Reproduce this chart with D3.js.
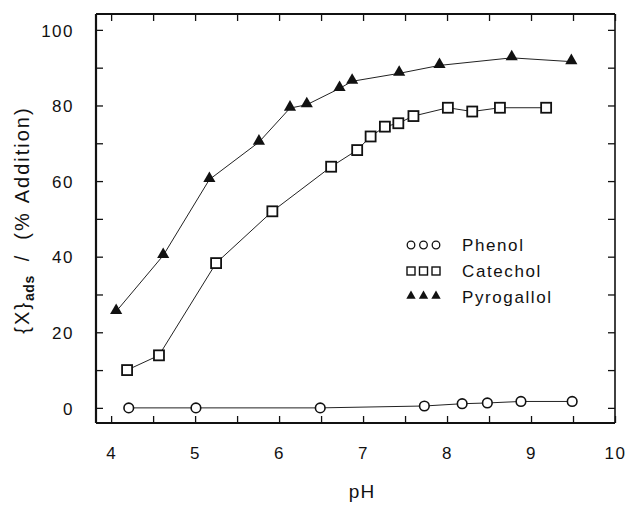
<!DOCTYPE html>
<html>
<head>
<meta charset="utf-8">
<script src="https://cdn.jsdelivr.net/npm/d3@7"></script>
<style>
  body { margin: 0; background: #fff; }
  text { font-family: "Liberation Sans", Arial, sans-serif; fill: #111; }
</style>
</head>
<body>
<div id="chart"></div>
<script>
// values
var phenolPH = [4.21, 5.01, 6.49, 7.73, 8.18, 8.48, 8.88, 9.49];
var phenolX = [0, 0, 0, 0.5, 1.1, 1.3, 1.7, 1.7];
var catecholPH = [4.19, 4.57, 5.25, 5.92, 6.62, 6.93, 7.09, 7.26, 7.42, 7.60, 8.01, 8.30, 8.63, 9.18];
var catecholX = [10.0, 13.9, 38.3, 52.0, 63.8, 68.2, 71.8, 74.4, 75.3, 77.2, 79.4, 78.4, 79.4, 79.4];
var pyroPH = [4.06, 4.62, 5.17, 5.76, 6.13, 6.33, 6.72, 6.87, 7.43, 7.91, 8.77, 9.48];
var pyroX = [25.5, 40.3, 60.4, 70.3, 79.3, 80.2, 84.5, 86.4, 88.5, 90.6, 92.6, 91.6];
var xTickLabels = [4, 5, 6, 7, 8, 9, 10];
var yTickLabels = [0, 20, 40, 60, 80, 100];
var legendNames = ["Phenol", "Catechol", "Pyrogallol"];

var width = 629, height = 508;
var plotL = 96, plotR = 615, plotT = 14, plotB = 423;

var svg = d3.select("#chart").append("svg")
  .attr("width", width)
  .attr("height", height);

var x = d3.scaleLinear().domain([3.82, 10]).range([plotL, plotR]);
var y = d3.scaleLinear().domain([-4, 104.2]).range([plotB, plotT]);

// frame
svg.append("line").attr("x1", plotL).attr("x2", plotL).attr("y1", plotT).attr("y2", plotB)
  .attr("stroke", "#111").attr("stroke-width", 2.2);
svg.append("line").attr("x1", plotL).attr("x2", plotR).attr("y1", plotB).attr("y2", plotB)
  .attr("stroke", "#111").attr("stroke-width", 2.2);
svg.append("line").attr("x1", plotL).attr("x2", plotR).attr("y1", plotT).attr("y2", plotT)
  .attr("stroke", "#111").attr("stroke-width", 2);
svg.append("line").attr("x1", plotR).attr("x2", plotR).attr("y1", plotT).attr("y2", plotB)
  .attr("stroke", "#111").attr("stroke-width", 1.6);

// ticks (pointing inward)
var xTicks = d3.range(4, 10.01, 0.5);
var yTicks = d3.range(0, 100.1, 10);

var bottomAxis = d3.axisBottom(x).tickValues(xTicks).tickSizeInner(-7).tickSizeOuter(0)
  .tickFormat(function(d) { return xTickLabels.indexOf(d) >= 0 ? d : ""; }).tickPadding(24);
var gb = svg.append("g").attr("transform", "translate(0," + plotB + ")").call(bottomAxis);
var topAxis = d3.axisTop(x).tickValues(xTicks).tickSizeInner(-7).tickSizeOuter(0).tickFormat("");
var gt = svg.append("g").attr("transform", "translate(0," + plotT + ")").call(topAxis);
var leftAxis = d3.axisLeft(y).tickValues(yTicks).tickSizeInner(-7).tickSizeOuter(0)
  .tickFormat(function(d) { return yTickLabels.indexOf(d) >= 0 ? d : ""; }).tickPadding(22);
var gl = svg.append("g").attr("transform", "translate(" + plotL + ",0)").call(leftAxis);
var rightAxis = d3.axisRight(y).tickValues(yTicks).tickSizeInner(-7).tickSizeOuter(0).tickFormat("");
var gr = svg.append("g").attr("transform", "translate(" + plotR + ",0)").call(rightAxis);

[gb, gt, gl, gr].forEach(function(g) {
  g.select(".domain").remove();
  g.selectAll(".tick line").attr("stroke", "#111").attr("stroke-width", 1.3);
  g.selectAll(".tick text")
    .style("font-family", "'Liberation Sans', Arial, sans-serif")
    .style("font-size", "17px")
    .style("letter-spacing", "1.5px")
    .attr("fill", "#111");
});
gl.selectAll(".tick text").attr("dy", "0.36em");

// series
var line = d3.line().x(function(d) { return x(d[0]); }).y(function(d) { return y(d[1]); });
function pairs(a, b) { return a.map(function(v, i) { return [v, b[i]]; }); }
var phenol = pairs(phenolPH, phenolX);
var catechol = pairs(catecholPH, catecholX);
var pyro = pairs(pyroPH, pyroX);

[phenol, catechol, pyro].forEach(function(s) {
  svg.append("path").datum(s).attr("d", line)
    .attr("fill", "none").attr("stroke", "#222").attr("stroke-width", 1);
});

var tri = d3.symbol().type(d3.symbolTriangle).size(64);

svg.selectAll(".pyro").data(pyro).enter().append("path")
  .attr("class", "pyro")
  .attr("transform", function(d) { return "translate(" + x(d[0]) + "," + (y(d[1]) - 1) + ")"; })
  .attr("d", tri).attr("fill", "#111");

svg.selectAll(".cat").data(catechol).enter().append("rect")
  .attr("class", "cat")
  .attr("x", function(d) { return x(d[0]) - 5; })
  .attr("y", function(d) { return y(d[1]) - 5; })
  .attr("width", 10).attr("height", 10)
  .attr("fill", "#fff").attr("stroke", "#111").attr("stroke-width", 1.8);

svg.selectAll(".phe").data(phenol).enter().append("circle")
  .attr("class", "phe")
  .attr("cx", function(d) { return x(d[0]); })
  .attr("cy", function(d) { return y(d[1]); })
  .attr("r", 4.8)
  .attr("fill", "#fff").attr("stroke", "#111").attr("stroke-width", 1.6);

// legend
var legend = svg.append("g").attr("transform", "translate(411,245)");
legendNames.forEach(function(name, i) {
  var g = legend.append("g").attr("transform", "translate(0," + (i * 26) + ")");
  for (var k = 0; k < 3; k++) {
    var cx = k * 12.5;
    if (i === 0) {
      g.append("circle").attr("cx", cx).attr("cy", 0).attr("r", 3.8)
        .attr("fill", "none").attr("stroke", "#111").attr("stroke-width", 1.3);
    } else if (i === 1) {
      g.append("rect").attr("x", cx - 4).attr("y", -4).attr("width", 8).attr("height", 8)
        .attr("fill", "none").attr("stroke", "#111").attr("stroke-width", 1.4);
    } else {
      g.append("path").attr("transform", "translate(" + cx + ",-1)")
        .attr("d", d3.symbol().type(d3.symbolTriangle).size(38)).attr("fill", "#111");
    }
  }
  g.append("text").attr("x", 51).attr("y", 6)
    .style("font-size", "17px").style("letter-spacing", "1.6px")
    .text(name);
});

// axis titles
svg.append("text").attr("x", 362).attr("y", 498).attr("text-anchor", "middle")
  .style("font-size", "19px").style("letter-spacing", "1px").text("pH");

var yl = svg.append("text")
  .attr("transform", "translate(29,220) rotate(-90)")
  .attr("text-anchor", "middle")
  .style("font-size", "20px").style("letter-spacing", "2px");
yl.append("tspan").text("{X}");
yl.append("tspan").attr("dy", 5).style("font-size", "14px").style("font-weight", "bold")
  .style("letter-spacing", "0.5px").text("ads");
yl.append("tspan").attr("dy", -5).attr("dx", 14).text("/");
yl.append("tspan").attr("dx", 14).text("(%");
yl.append("tspan").attr("dx", 8).text("Addition)");
</script>
</body>
</html>
